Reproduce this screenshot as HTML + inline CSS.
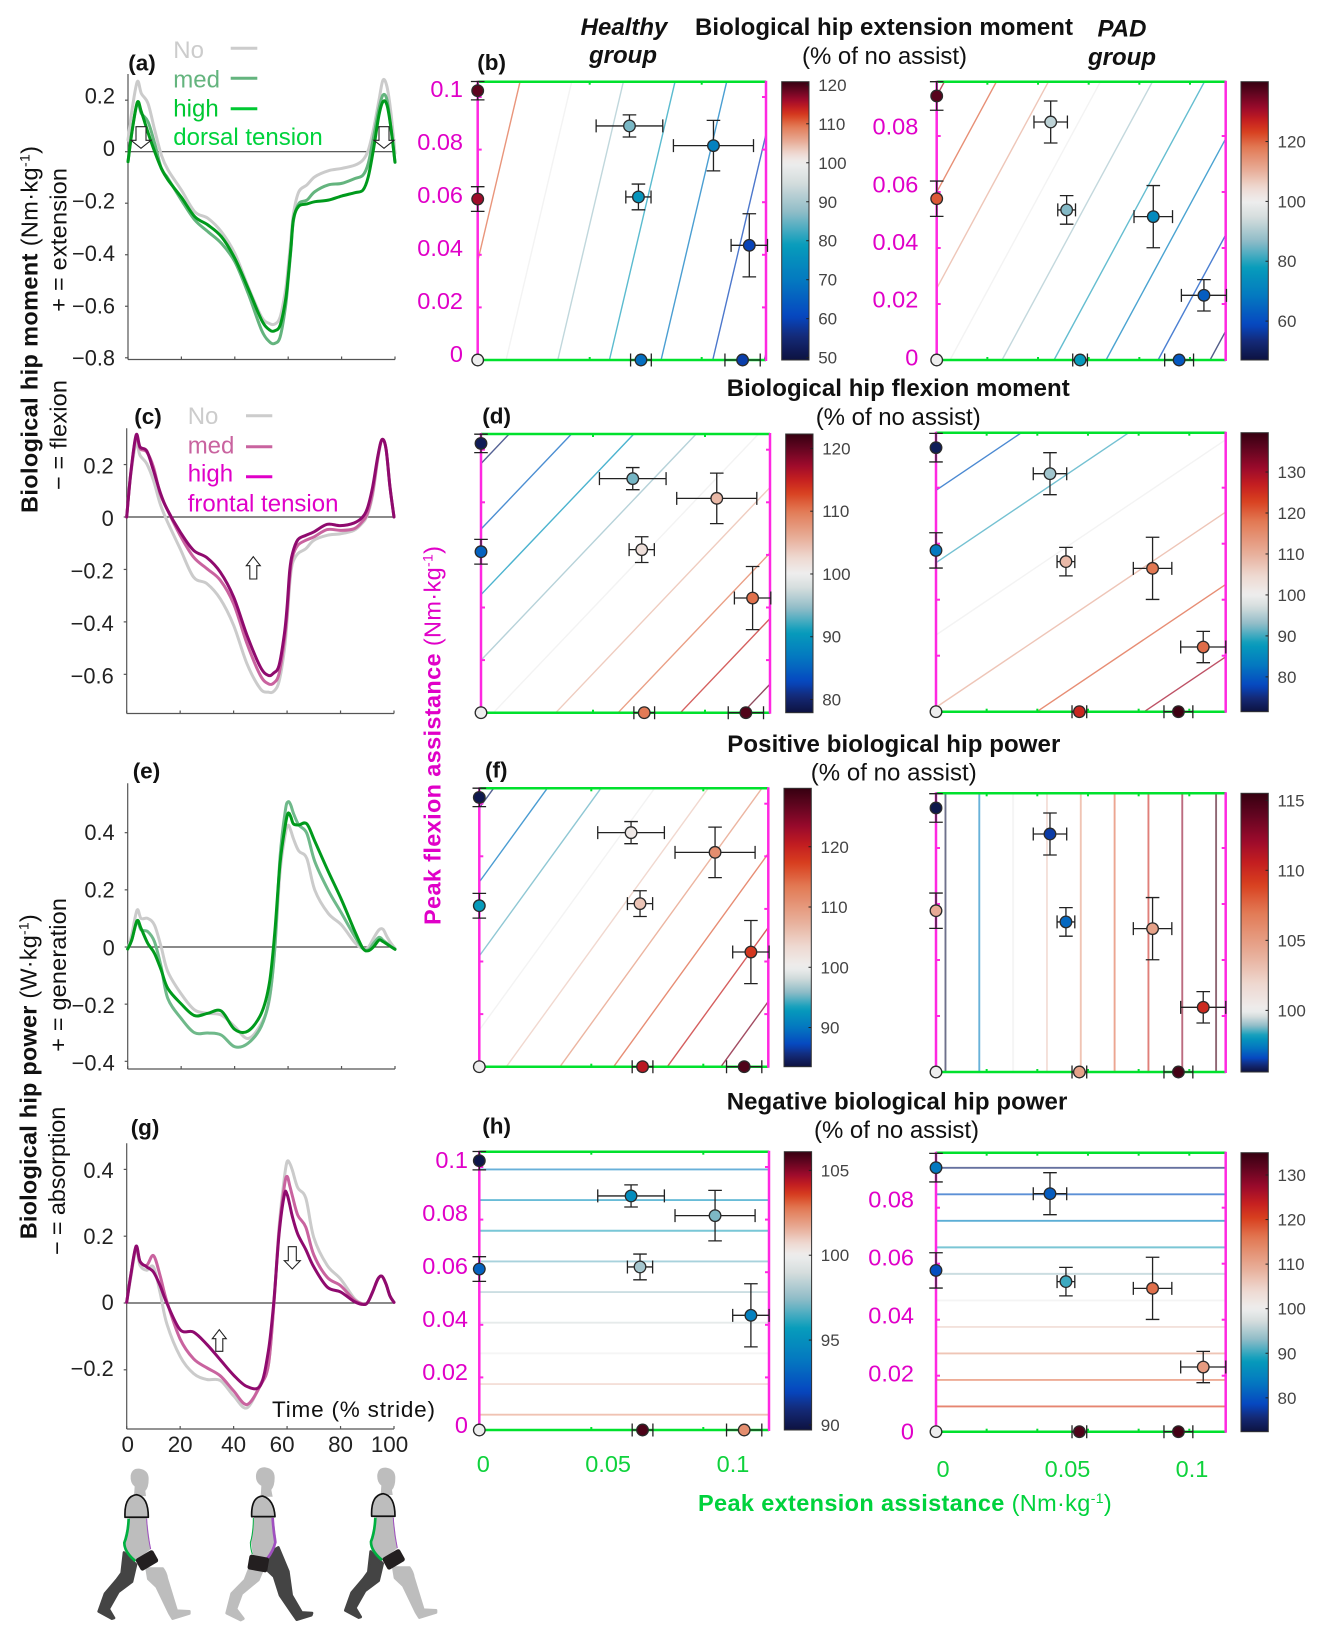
<!DOCTYPE html>
<html lang="en">
<head>
<meta charset="utf-8">
<title>Biological hip moment and power versus assistance</title>
<style>
html,body{margin:0;padding:0;background:#fff;}
svg{display:block;font-family:"Liberation Sans",sans-serif;}
.ttl{font-size:24px;font-weight:bold;fill:#111;}
.sub{font-size:24px;fill:#111;}
.ital{font-size:24px;font-weight:bold;font-style:italic;fill:#111;text-anchor:middle;}
.plab{font-size:22.5px;font-weight:bold;fill:#111;}
.leg{font-size:24px;}
.rot{font-size:23.5px;fill:#111;}
</style>
</head>
<body>
<svg id="figure" xmlns="http://www.w3.org/2000/svg" width="1324" height="1636" viewBox="0 0 1324 1636">
<rect x="0" y="0" width="1324" height="1636" fill="#fff"/>
<g id="charts"></g>

<!-- headings -->
<text class="ital" x="624" y="35">Healthy</text>
<text class="ital" x="623" y="63">group</text>
<text class="ital" x="1122" y="36.5">PAD</text>
<text class="ital" x="1122" y="65">group</text>
<text class="ttl" x="695" y="35" textLength="378">Biological hip extension moment</text>
<text class="sub" x="802" y="64" textLength="165">(% of no assist)</text>
<text class="ttl" x="726.7" y="396" textLength="343">Biological hip flexion moment</text>
<text class="sub" x="815.7" y="425" textLength="165">(% of no assist)</text>
<text class="ttl" x="727.3" y="752" textLength="333">Positive biological hip power</text>
<text class="sub" x="810.7" y="780.5" textLength="166">(% of no assist)</text>
<text class="ttl" x="726.7" y="1109.5" textLength="340.6">Negative biological hip power</text>
<text class="sub" x="814" y="1138" textLength="165">(% of no assist)</text>

<!-- panel letters -->
<text class="plab" x="128.3" y="70.5">(a)</text>
<text class="plab" x="477.3" y="70">(b)</text>
<text class="plab" x="134.3" y="424">(c)</text>
<text class="plab" x="482.3" y="423.3">(d)</text>
<text class="plab" x="132.7" y="778.3">(e)</text>
<text class="plab" x="485" y="777.7">(f)</text>
<text class="plab" x="130.7" y="1135">(g)</text>
<text class="plab" x="482.3" y="1133.3">(h)</text>

<!-- legends -->
<g>
<text class="leg" x="173.3" y="58" fill="#cccccc">No</text>
<text class="leg" x="173.3" y="87.3" fill="#64b47e">med</text>
<text class="leg" x="173.3" y="116.7" fill="#00c832">high</text>
<text class="leg" x="173.3" y="145" fill="#00d23c">dorsal tension</text>
<line x1="230.7" x2="257.3" y1="48.3" y2="48.3" stroke="#cccccc" stroke-width="3"/>
<line x1="230.7" x2="257.3" y1="78.3" y2="78.3" stroke="#64b47e" stroke-width="3"/>
<line x1="230.7" x2="257.3" y1="108.7" y2="108.7" stroke="#00c832" stroke-width="3"/>
</g>
<g>
<text class="leg" x="187.7" y="424" fill="#cccccc">No</text>
<text class="leg" x="187.7" y="453.3" fill="#c9639f">med</text>
<text class="leg" x="187.7" y="481.7" fill="#e000c8">high</text>
<text class="leg" x="187.7" y="511.7" fill="#e000c8">frontal tension</text>
<line x1="246" x2="272.3" y1="415.7" y2="415.7" stroke="#cccccc" stroke-width="3"/>
<line x1="246" x2="272.3" y1="446.7" y2="446.7" stroke="#c9639f" stroke-width="3"/>
<line x1="246" x2="272.3" y1="476.7" y2="476.7" stroke="#e000c8" stroke-width="3"/>
</g>

<!-- rotated axis titles -->
<text class="rot" transform="translate(37.5,513) rotate(-90)" textLength="367"><tspan font-weight="bold">Biological hip moment</tspan> (Nm·kg<tspan font-size="14" dy="-8">-1</tspan><tspan dy="8">)</tspan></text>
<text class="rot" transform="translate(66.5,311.7) rotate(-90)" textLength="143.7">+ = extension</text>
<text class="rot" transform="translate(66.5,490) rotate(-90)" textLength="110">− = flexion</text>
<text class="rot" transform="translate(36.7,1239.3) rotate(-90)" textLength="325"><tspan font-weight="bold">Biological hip power</tspan> (W·kg<tspan font-size="14" dy="-8">-1</tspan><tspan dy="8">)</tspan></text>
<text class="rot" transform="translate(66,1051.7) rotate(-90)" textLength="153.7">+ = generation</text>
<text class="rot" transform="translate(65,1255) rotate(-90)" textLength="148.3">− = absorption</text>
<text class="rot" style="fill:#e000c8" transform="translate(440.7,925) rotate(-90)" textLength="379"><tspan font-weight="bold">Peak flexion assistance</tspan> (Nm·kg<tspan font-size="14" dy="-8">-1</tspan><tspan dy="8">)</tspan></text>
<text class="rot" style="fill:#00d23c" x="698" y="1511" textLength="413.7"><tspan font-weight="bold">Peak extension assistance</tspan> (Nm·kg<tspan font-size="14" dy="-8">-1</tspan><tspan dy="8">)</tspan></text>
<text x="272" y="1417" font-size="22.5" fill="#111" textLength="163">Time (% stride)</text>

<!-- hollow arrows -->
<g fill="#fff" stroke="#222" stroke-width="1.1">
<path d="M136,126.7h10v13.6h5l-10,8l-10,-8h5z"/>
<path d="M379,126.7h10v13.6h5l-10,8l-10,-8h5z"/>
<path d="M253.3,556.7l7,9h-3.5v13.3h-7v-13.3h-3.5z"/>
<path d="M219.3,1329.7l7,9h-3.5v12.6h-7v-12.6h-3.5z"/>
<path d="M288.3,1246.7h8v14h4l-8,8.3l-8,-8.3h4z"/>
</g>

<!-- walking figures -->
<g transform="translate(0,1099) scale(0.33333,0.3423)">
 <g>
  <path fill="#bdbdbd" stroke="#bdbdbd" stroke-width="8" stroke-linejoin="round" d="M440,1372L488,1372Q498,1385 500,1400L530,1495L568,1497L568,1503L518,1518L508,1502L470,1425L445,1402Z"/>
  <path fill="#444" stroke="#444" stroke-width="8" stroke-linejoin="round" d="M372,1325L408,1360L396,1410L355,1440L326,1490L342,1516L336,1518L296,1497L315,1445L350,1405L365,1385Z"/>
  <path fill="#bdbdbd" d="M388,1222L440,1222L452,1315L420,1340L405,1352L375,1322L370,1295Z"/>
  <path fill="#bdbdbd" d="M392,1100Q396,1078 418,1080Q446,1084 446,1110Q446,1135 436,1145L438,1160L402,1160L404,1132Q390,1122 392,1100Z"/>
  <path fill="#bdbdbd" stroke="#111" stroke-width="5" stroke-linejoin="round" d="M375,1222Q372,1160 410,1156Q445,1162 445,1222Z"/>
  <path fill="none" stroke="#00b040" stroke-width="8" d="M386,1226Q384,1270 373,1296Q372,1322 406,1350"/>
  <path fill="none" stroke="#a050c0" stroke-width="3" d="M440,1226Q442,1270 452,1315"/>
  <rect x="411" y="1328" width="60" height="40" rx="7" fill="#231f20" transform="rotate(-30 441 1348)"/>
 </g>
 <g>
  <path fill="#bdbdbd" stroke="#bdbdbd" stroke-width="8" stroke-linejoin="round" d="M752,1362L790,1370L775,1405L725,1445L708,1490L730,1518L722,1522L680,1502L695,1445L735,1405Z"/>
  <path fill="#444" stroke="#444" stroke-width="8" stroke-linejoin="round" d="M800,1330L835,1310L865,1380L875,1450L905,1500L936,1502L934,1508L890,1521L875,1500L840,1450L822,1395L800,1375Z"/>
  <path fill="#bdbdbd" d="M762,1222L820,1222L830,1292L800,1345L760,1340L752,1290Z"/>
  <path fill="#bdbdbd" d="M768,1098Q772,1075 796,1076Q824,1080 824,1106Q824,1130 814,1142L818,1162L782,1162L784,1130Q766,1120 768,1098Z"/>
  <path fill="#bdbdbd" stroke="#111" stroke-width="5" stroke-linejoin="round" d="M755,1220Q753,1162 788,1160Q822,1170 825,1220Z"/>
  <path fill="none" stroke="#00b040" stroke-width="3" d="M760,1224Q760,1270 751,1296Q752,1315 757,1330"/>
  <path fill="none" stroke="#a050c0" stroke-width="8" d="M818,1224Q820,1260 826,1295Q820,1320 802,1342"/>
  <rect x="745" y="1335" width="60" height="44" rx="7" fill="#231f20" transform="rotate(10 775 1357)"/>
 </g>
 <g transform="translate(740,-3)">
  <path fill="#bdbdbd" stroke="#bdbdbd" stroke-width="8" stroke-linejoin="round" d="M440,1372L488,1372Q498,1385 500,1400L530,1495L568,1497L568,1503L518,1518L508,1502L470,1425L445,1402Z"/>
  <path fill="#444" stroke="#444" stroke-width="8" stroke-linejoin="round" d="M372,1325L408,1360L396,1410L355,1440L326,1490L342,1516L336,1518L296,1497L315,1445L350,1405L365,1385Z"/>
  <path fill="#bdbdbd" d="M388,1222L440,1222L452,1315L420,1340L405,1352L375,1322L370,1295Z"/>
  <path fill="#bdbdbd" d="M392,1100Q396,1078 418,1080Q446,1084 446,1110Q446,1135 436,1145L438,1160L402,1160L404,1132Q390,1122 392,1100Z"/>
  <path fill="#bdbdbd" stroke="#111" stroke-width="5" stroke-linejoin="round" d="M375,1222Q372,1160 410,1156Q445,1162 445,1222Z"/>
  <path fill="none" stroke="#00b040" stroke-width="8" d="M386,1226Q384,1270 373,1296Q372,1322 406,1350"/>
  <path fill="none" stroke="#a050c0" stroke-width="3" d="M440,1226Q442,1270 452,1315"/>
  <rect x="411" y="1328" width="60" height="40" rx="7" fill="#231f20" transform="rotate(-30 441 1348)"/>
 </g>
</g>
</svg>

<script>
/* ---------- gait curves ---------- */
const stridePercent = [0,1.5,3.5,5,7.5,10,12.5,15,20,25,30,35,40,45,50,53,55,57,59,60,61,62,64,67,70,75,80,85,88,90,92,94,95.5,97,98.5,100];
const timeTicks = [0,20,40,60,80,100];

const extensionNo = [.045,.162,.272,.226,.187,.084,-.013,-.071,-.149,-.233,-.259,-.311,-.395,-.524,-.641,-.667,-.669,-.641,-.537,-.446,-.343,-.239,-.155,-.129,-.097,-.074,-.065,-.052,-.032,.006,.09,.2,.278,.252,.149,-.006];
const extensionMed = [-.039,.078,.188,.149,.116,.032,-.065,-.104,-.188,-.265,-.311,-.356,-.427,-.55,-.692,-.738,-.744,-.718,-.601,-.498,-.382,-.265,-.201,-.188,-.155,-.129,-.123,-.104,-.091,-.045,.058,.168,.22,.201,.091,-.041];
const extensionHigh = [-.039,.078,.192,.155,.074,0,-.065,-.11,-.177,-.252,-.285,-.33,-.414,-.531,-.653,-.692,-.695,-.673,-.576,-.485,-.375,-.259,-.211,-.203,-.194,-.188,-.172,-.159,-.149,-.097,.013,.142,.194,.181,.091,-.041];
const extensionTicks = [0.2,0,-0.2,-0.4,-0.6,-0.8];

const flexionNo = [0,.159,.28,.235,.203,.14,.051,-.013,-.121,-.229,-.254,-.312,-.413,-.56,-.655,-.668,-.665,-.627,-.506,-.394,-.254,-.178,-.14,-.121,-.089,-.07,-.064,-.051,-.025,.006,.083,.223,.295,.261,.114,0];
const flexionMed = [0,.165,.305,.261,.248,.191,.089,.032,-.07,-.153,-.197,-.241,-.331,-.483,-.604,-.636,-.633,-.598,-.47,-.369,-.229,-.153,-.108,-.089,-.076,-.048,-.051,-.045,-.019,.013,.095,.229,.295,.261,.114,0];
const flexionHigh = [0,.165,.312,.267,.252,.178,.095,.032,-.057,-.127,-.155,-.21,-.305,-.451,-.572,-.604,-.595,-.566,-.445,-.343,-.203,-.14,-.087,-.07,-.057,-.028,-.033,-.023,-.003,.032,.114,.235,.295,.261,.114,0];
const flexionTicks = [0.2,0,-0.2,-0.4,-0.6];

const generationNo = [-.007,.042,.129,.1,.1,.077,.001,-.086,-.164,-.22,-.232,-.238,-.278,-.32,-.267,-.185,-.01,.263,.397,.426,.408,.379,.336,.31,.199,.118,.077,.015,-.005,-.001,.031,.06,.062,.036,.013,-.005];
const generationMed = [-.007,.024,.089,.06,.054,.019,-.069,-.18,-.25,-.3,-.301,-.308,-.349,-.337,-.277,-.18,-.01,.315,.479,.508,.497,.468,.427,.398,.299,.199,.118,.036,-.005,-.01,.013,.034,.024,.013,.001,-.008];
const generationHigh = [-.007,.024,.092,.065,.013,-.022,-.08,-.145,-.199,-.24,-.232,-.224,-.288,-.294,-.232,-.127,.048,.293,.428,.468,.456,.431,.427,.431,.37,.265,.165,.054,-.005,-.013,.001,.024,.019,.01,.001,-.008];
const generationTicks = [0.4,0.2,0,-0.2,-0.4];

const absorptionNo = [.002,.075,.16,.113,.098,.108,.031,-.062,-.16,-.211,-.229,-.232,-.278,-.314,-.242,-.186,-.01,.227,.376,.423,.418,.397,.345,.314,.196,.113,.072,.015,-.002,0,.033,.072,.08,.057,.021,.002];
const absorptionMed = [.002,.082,.165,.124,.113,.142,.082,.005,-.108,-.167,-.194,-.218,-.263,-.304,-.247,-.186,-.01,.216,.351,.379,.351,.32,.263,.227,.144,.077,.052,.01,-.002,0,.033,.072,.08,.057,.021,.002];
const absorptionHigh = [.002,.082,.17,.124,.108,.093,.052,0,-.08,-.087,-.124,-.17,-.216,-.25,-.247,-.144,0,.206,.325,.325,.294,.258,.206,.16,.108,.048,.033,.005,-.004,0,.033,.072,.08,.057,.021,.002];
const absorptionTicks = [0.4,0.2,0,-0.2];

/* ---------- assistance conditions (Nm/kg) ---------- */
const healthyExtension = [0,0,0,.0542,.0842,.0574,.097,.0583,.0946];
const healthyFlexion = [.1024,.0612,0,.089,.0815,.062,.0436,0,0];
const healthyExtensionErr = [0,0,0,.0119,.0143,.0045,.0065,.0037,.0063];
const healthyFlexionErr = [.0035,.0047,0,.0042,.0096,.0049,.012,0,0];
const padExtension = [0,0,0,.045,.0855,.0513,.1055,.0566,.0957];
const padFlexion = [.0943,.0576,0,.085,.0512,.0536,.0231,0,0];
const padExtensionErr = [0,0,0,.0066,.0076,.0035,.0089,.0029,.0057];
const padFlexionErr = [.0051,.0063,0,.0075,.0111,.0051,.0056,0,0];

const healthyXTicks = [.04,.08];
const healthyYTicks = [.02,.04,.06,.08,.1];
const padXTicks = [.02,.04,.06,.08,.1];
const padYTicks = [.02,.04,.06,.08];
const healthyYLabels = [0,.02,.04,.06,.08,.1];
const padYLabels = [0,.02,.04,.06,.08];
const xLabels = [0,.05,.1];

/* ---------- % of no assist at each condition ---------- */
const extMomentHealthy = [119,116,100,86,72,77,60,68,59];
const extMomentPad = [137,121,100,92,73,86,63,77,62];
const flexMomentHealthy = [79,85,100,93.8,105,101.8,110.5,110,121];
const flexMomentPad = [73,83,100,94,118,108.7,119,126,139];
const posPowerHealthy = [84,93,100,101,111.3,105.5,118,121,128];
const posPowerPad = [95.7,104.2,100,96.4,104.7,97.1,110,104.7,115];
const negPowerHealthy = [89.9,93,100,94.9,97.2,97.9,94.3,105.8,102.3];
const negPowerPad = [83.4,79.3,100,80.7,116.5,90.3,111.5,133,134];

/* ---------- fitted plane: intercept, slope per extension, slope per flexion ---------- */
const extMomentHealthyPlane = [105.5,-542,120];
const extMomentPadPlane = [102.56,-487,291];
const flexMomentHealthyPlane = [99,224.6,-200.6];
const flexMomentPadPlane = [110.6,236,-387];
const posPowerHealthyPlane = [102.48,260.9,-177.7];
const posPowerPadPlane = [94.3,187.2,0];
const negPowerHealthyPlane = [102.5,0,-85.8];
const negPowerPadPlane = [124.76,0,-528];

/* ---------- contour levels ---------- */
const extMomentHealthyLevels = [50,60,70,80,90,100,110];
const extMomentPadLevels = [50,60,70,80,90,100,110,120,130];
const flexMomentHealthyLevels = [80,85,90,95,100,105,110,115,120];
const flexMomentPadLevels = [80,90,100,110,120,130];
const posPowerHealthyLevels = [85,90,95,100,105,110,115,120,125];
const posPowerPadLevels = [95,97.5,100,102.5,105,107.5,110,112.5,115];
const negPowerHealthyLevels = [94,95,96,97,98,99,100,101,102];
const negPowerPadLevels = [75,80,85,90,95,100,105,110,115,120];

/* ---------- colour-bar ranges and ticks ---------- */
const extMomentHealthyRange = [49.4,120.8];
const extMomentPadRange = [47,140];
const flexMomentHealthyRange = [77.9,122.3];
const flexMomentPadRange = [71.5,139.6];
const posPowerHealthyRange = [83.5,129.7];
const posPowerPadRange = [95.6,115.5];
const negPowerHealthyRange = [89.7,106.1];
const negPowerPadRange = [72.4,135];
const extMomentHealthyBarTicks = [50,60,70,80,90,100,110,120];
const extMomentPadBarTicks = [60,80,100,120];
const flexMomentHealthyBarTicks = [80,90,100,110,120];
const flexMomentPadBarTicks = [80,90,100,110,120,130];
const posPowerHealthyBarTicks = [90,100,110,120];
const posPowerPadBarTicks = [100,105,110,115];
const negPowerHealthyBarTicks = [90,95,100,105];
const negPowerPadBarTicks = [80,90,100,110,120,130];

/* ---------- helpers ---------- */
const NS = 'http://www.w3.org/2000/svg';
const root = document.getElementById('charts');
const GREEN = 'rgb(0,225,45)';
const PINK = 'rgb(255,40,225)';
const PINK_TEXT = '#e000c8';
const GREEN_TEXT = '#0fd23c';
let gradientCount = 0;

function make(tag, attrs, parent) {
  const e = document.createElementNS(NS, tag);
  for (const k in attrs) e.setAttribute(k, attrs[k]);
  parent.appendChild(e);
  return e;
}
function hexRgb(h) {
  return [parseInt(h.slice(1,3),16), parseInt(h.slice(3,5),16), parseInt(h.slice(5,7),16)];
}
const cmapT = [-1,-.88,-.78,-.6,-.42,-.25,-.1,0,.12,.25,.45,.58,.68,.78,.9,1];
const cmapC = ['#0d1240','#142a78','#0646c0','#0478c0','#069cbb','#8fbcc7','#d5dddd','#eeeeee','#eed8d0','#e8b09c','#e27a55','#d8401f','#c41e20','#9c0a2c','#620520','#360010'];
function colorFor(v, range) {
  let t = v < 100 ? (v - 100) / (100 - range[0]) : (v - 100) / (range[1] - 100);
  t = Math.max(-1, Math.min(1, t));
  let i = 0;
  while (i < cmapT.length - 2 && t > cmapT[i + 1]) i++;
  const f = (t - cmapT[i]) / (cmapT[i + 1] - cmapT[i]);
  const a = hexRgb(cmapC[i]);
  const b = hexRgb(cmapC[i + 1]);
  return 'rgb(' + a.map((c, n) => Math.round(c + (b[n] - c) * f)).join(',') + ')';
}
function smoothPath(pts) {
  let d = 'M' + pts[0][0].toFixed(2) + ',' + pts[0][1].toFixed(2);
  for (let i = 0; i < pts.length - 1; i++) {
    const p0 = pts[Math.max(0, i - 1)];
    const p1 = pts[i];
    const p2 = pts[i + 1];
    const p3 = pts[Math.min(pts.length - 1, i + 2)];
    const c1x = p1[0] + (p2[0] - p0[0]) / 6;
    const c1y = p1[1] + (p2[1] - p0[1]) / 6;
    const c2x = p2[0] - (p3[0] - p1[0]) / 6;
    const c2y = p2[1] - (p3[1] - p1[1]) / 6;
    d += 'C' + c1x.toFixed(2) + ',' + c1y.toFixed(2) + ' ' + c2x.toFixed(2) + ',' + c2y.toFixed(2) + ' ' + p2[0].toFixed(2) + ',' + p2[1].toFixed(2);
  }
  return d;
}
function signed(v) {
  return v < 0 ? '−' + Math.abs(v) : String(v);
}

/* ---------- gait line chart ---------- */
function lineChart(cfg) {
  const g = make('g', {}, root);
  
  
  const xAt = t => cfg.left + (cfg.right - cfg.left) * t / 100;
  const yAt = v => cfg.zeroY - v * cfg.unit;
  const labelAt = v => cfg.labelZero - v * cfg.labelScale;

  const yAxis = make('line', {x1: cfg.left, x2: cfg.left, y1: cfg.top, y2: cfg.bottom, stroke: '#555', 'stroke-width': 1.2}, g);
  
  
  const xAxis = make('line', {x1: cfg.left, x2: cfg.right, y1: cfg.bottom, y2: cfg.bottom, stroke: '#555', 'stroke-width': 1.2}, g);
  
  
  const zero = make('line', {x1: cfg.left, x2: cfg.right, y1: yAt(0), y2: yAt(0), stroke: '#444', 'stroke-width': 1.2}, g);
  
  

  cfg.yTicks.forEach(v => {
    const tick = make('line', {x1: cfg.left - 3, x2: cfg.left, y1: yAt(v), y2: yAt(v), stroke: '#555', 'stroke-width': 1.2}, g);
    
    
    const label = make('text', {x: cfg.left - 13, y: labelAt(v) + 7.8, 'text-anchor': 'end', 'font-size': 21.8, fill: '#222'}, g);
    
    
    label.textContent = signed(v);
  });
  timeTicks.forEach(t => {
    const tick = make('line', {x1: xAt(t), x2: xAt(t), y1: cfg.bottom - 3, y2: cfg.bottom, stroke: '#555', 'stroke-width': 1.2}, g);
    
    
    if (cfg.showTime) {
      const label = make('text', {x: xAt(t) + (t === 100 ? -4.5 : t === 60 ? -5 : 0) + (t === 0 ? 1 : 0), y: cfg.bottom + 23, 'text-anchor': 'middle', 'font-size': 22.4, fill: '#222'}, g);
      
      
      label.textContent = String(t);
    }
  });
  cfg.series.forEach(s => {
    const pts = stridePercent.map((t, i) => [xAt(t), yAt(s.values[i])]);
    const path = make('path', {d: smoothPath(pts), fill: 'none', stroke: s.color, 'stroke-width': 3, 'stroke-linejoin': 'round', 'stroke-linecap': 'round'}, g);
    
    
  });
}

const GRAY = '#cbcbcb';
lineChart({name: 'extension-moment-chart', left: 128, right: 395, top: 74, bottom: 359.5, zeroY: 151.7, unit: 257.6, labelZero: 148.3, labelScale: 262, yTicks: extensionTicks,
  series: [{values: extensionNo, color: GRAY, name: 'curve-no-assist'}, {values: extensionMed, color: '#64b47e', name: 'curve-medium'}, {values: extensionHigh, color: '#009a1c', name: 'curve-high'}]});
lineChart({name: 'flexion-moment-chart', left: 126.7, right: 394, top: 428.3, bottom: 713.5, zeroY: 517, unit: 262.2, labelZero: 518.3, labelScale: 262, yTicks: flexionTicks,
  series: [{values: flexionNo, color: GRAY, name: 'curve-no-assist'}, {values: flexionMed, color: '#c9639f', name: 'curve-medium'}, {values: flexionHigh, color: '#8f0a6e', name: 'curve-high'}]});
lineChart({name: 'power-generation-chart', left: 127.7, right: 395, top: 783.3, bottom: 1069, zeroY: 947, unit: 285.8, labelZero: 947.5, labelScale: 288, yTicks: generationTicks,
  series: [{values: generationNo, color: GRAY, name: 'curve-no-assist'}, {values: generationMed, color: '#6fb98a', name: 'curve-medium'}, {values: generationHigh, color: '#009a1c', name: 'curve-high'}]});
lineChart({name: 'power-absorption-chart', left: 126.7, right: 394, top: 1143.3, bottom: 1429, zeroY: 1303, unit: 334, labelZero: 1302, labelScale: 330, yTicks: absorptionTicks, showTime: true,
  series: [{values: absorptionNo, color: GRAY, name: 'curve-no-assist'}, {values: absorptionMed, color: '#c9639f', name: 'curve-medium'}, {values: absorptionHigh, color: '#8f0a6e', name: 'curve-high'}]});

/* ---------- contour + scatter panel ---------- */
function contourPanel(cfg) {
  const g = make('g', {}, root);
  
  
  const xAt = v => cfg.left + v * cfg.kx;
  const yAt = v => cfg.bottom - v * cfg.ky;
  const xMax = (cfg.right - cfg.left) / cfg.kx;
  const yMax = (cfg.bottom - cfg.top) / cfg.ky;
  const plane = cfg.plane;

  cfg.levels.forEach(level => {
    const hits = [];
    if (plane[2] !== 0) {
      [0, xMax].forEach(x => {
        const y = (level - plane[0] - plane[1] * x) / plane[2];
        if (y >= 0 && y <= yMax) hits.push([x, y]);
      });
    }
    if (plane[1] !== 0) {
      [0, yMax].forEach(y => {
        const x = (level - plane[0] - plane[2] * y) / plane[1];
        if (x >= 0 && x <= xMax) hits.push([x, y]);
      });
    }
    if (hits.length < 2) return;
    const c = make('line', {x1: xAt(hits[0][0]), y1: yAt(hits[0][1]), x2: xAt(hits[1][0]), y2: yAt(hits[1][1]), stroke: colorFor(level, cfg.range), 'stroke-width': cfg.contourWidth || 1.4, 'stroke-opacity': cfg.contourOpacity || .72}, g);
    
    
  });

  [cfg.top, cfg.bottom].forEach(y => {
    const b = make('line', {x1: cfg.left, x2: cfg.right, y1: y, y2: y, stroke: GREEN, 'stroke-width': 2.5}, g);
    
    
  });
  [cfg.left, cfg.right].forEach(x => {
    const b = make('line', {x1: x, x2: x, y1: cfg.top - 1, y2: cfg.bottom + 1, stroke: PINK, 'stroke-width': 2.5}, g);
    
    
  });
  cfg.xTicks.forEach(v => {
    [[cfg.top, 3], [cfg.bottom, -3]].forEach(pair => {
      const t = make('line', {x1: xAt(v), x2: xAt(v), y1: pair[0], y2: pair[0] + pair[1], stroke: GREEN, 'stroke-width': 2}, g);
      
      
    });
  });
  cfg.yTicks.forEach(v => {
    [[cfg.left, 4], [cfg.right, -4]].forEach(pair => {
      const t = make('line', {x1: pair[0], x2: pair[0] + pair[1], y1: yAt(v), y2: yAt(v), stroke: PINK, 'stroke-width': 2}, g);
      
      
    });
  });

  if (cfg.yLabels) {
    cfg.yLabels.forEach(v => {
      const t = make('text', {x: cfg.labelRight, y: cfg.labelZero - v * cfg.labelScale + 8, 'text-anchor': 'end', 'font-size': 23.5, fill: PINK_TEXT}, g);
      
      
      t.textContent = String(v);
    });
  }
  if (cfg.xLabels) {
    cfg.xLabels.forEach(v => {
      const t = make('text', {x: cfg.left + cfg.xLabelOffset + v * cfg.xLabelScale, y: cfg.xLabelY + 8, 'text-anchor': 'middle', 'font-size': 23.5, fill: GREEN_TEXT}, g);
      
      
      t.textContent = String(v);
    });
  }

  cfg.values.forEach((value, i) => {
    const px = xAt(cfg.x[i]);
    const py = yAt(cfg.y[i]);
    const ex = cfg.xErr[i] * cfg.kx;
    const ey = cfg.yErr[i] * cfg.ky;
    const errs = make('g', {stroke: '#222', 'stroke-width': 1.3, fill: 'none'}, g);
    
    
    if (ex > 0) {
      const bar = make('path', {d: 'M' + (px - ex) + ',' + py + 'H' + (px + ex) + 'M' + (px - ex) + ',' + (py - 6.5) + 'V' + (py + 6.5) + 'M' + (px + ex) + ',' + (py - 6.5) + 'V' + (py + 6.5)}, errs);
      
      
    }
    if (ey > 0) {
      const bar = make('path', {d: 'M' + px + ',' + (py - ey) + 'V' + (py + ey) + 'M' + (px - 6.8) + ',' + (py - ey) + 'H' + (px + 6.8) + 'M' + (px - 6.8) + ',' + (py + ey) + 'H' + (px + 6.8)}, errs);
      
      
    }
    const dot = make('circle', {cx: px, cy: py, r: 5.8, fill: colorFor(value, cfg.range), stroke: '#2a2a2a', 'stroke-width': 1.3}, g);
    
    
  });

  /* colour bar */
  const gradId = 'cb' + (gradientCount++);
  const defs = make('defs', {}, g);
  const grad = make('linearGradient', {id: gradId, x1: 0, y1: 0, x2: 0, y2: 1}, defs);
  const span = cfg.range[1] - cfg.range[0];
  for (let n = 0; n <= 60; n++) {
    make('stop', {offset: (n / 60), 'stop-color': colorFor(cfg.range[1] - span * n / 60, cfg.range)}, grad);
  }
  const bar = make('rect', {x: cfg.barX, y: cfg.top, width: 27.3, height: cfg.bottom - cfg.top, fill: 'url(#' + gradId + ')', stroke: '#333', 'stroke-width': 1}, g);
  
  
  cfg.barTicks.forEach(v => {
    const by = cfg.top + (cfg.range[1] - v) / span * (cfg.bottom - cfg.top);
    const tick = make('line', {x1: cfg.barX + 24.5, x2: cfg.barX + 27.3, y1: by, y2: by, stroke: '#222', 'stroke-width': 1}, g);
    
    
    const label = make('text', {x: cfg.barX + 36.5, y: by + 6, 'font-size': 17, fill: '#444'}, g);
    
    
    label.textContent = String(v);
  });
}

const healthy = {kx: 2800, ky: 2630, x: healthyExtension, y: healthyFlexion, xErr: healthyExtensionErr, yErr: healthyFlexionErr, xTicks: healthyXTicks, yTicks: healthyYTicks};
const pad = {kx: 2533, ky: 2800, x: padExtension, y: padFlexion, xErr: padExtensionErr, yErr: padFlexionErr, xTicks: padXTicks, yTicks: padYTicks};

contourPanel(Object.assign({}, healthy, {name: 'extension-moment-healthy-panel', left: 477.7, right: 766, top: 81.7, bottom: 360, barX: 781.7,
  values: extMomentHealthy, plane: extMomentHealthyPlane, levels: extMomentHealthyLevels, range: extMomentHealthyRange, barTicks: extMomentHealthyBarTicks,
  yLabels: healthyYLabels, labelRight: 463, labelZero: 354, labelScale: 2650}));
contourPanel(Object.assign({}, pad, {name: 'extension-moment-pad-panel', left: 936.7, right: 1225.7, top: 81.7, bottom: 360, barX: 1241,
  values: extMomentPad, plane: extMomentPadPlane, levels: extMomentPadLevels, range: extMomentPadRange, barTicks: extMomentPadBarTicks,
  yLabels: padYLabels, labelRight: 918.3, labelZero: 357.3, labelScale: 2882}));
contourPanel(Object.assign({}, healthy, {name: 'flexion-moment-healthy-panel', left: 481, right: 770, top: 434, bottom: 712.7, barX: 785.7,
  values: flexMomentHealthy, plane: flexMomentHealthyPlane, levels: flexMomentHealthyLevels, range: flexMomentHealthyRange, barTicks: flexMomentHealthyBarTicks}));
contourPanel(Object.assign({}, pad, {name: 'flexion-moment-pad-panel', left: 936, right: 1225.7, top: 432.7, bottom: 711.7, barX: 1241,
  values: flexMomentPad, plane: flexMomentPadPlane, levels: flexMomentPadLevels, range: flexMomentPadRange, barTicks: flexMomentPadBarTicks}));
contourPanel(Object.assign({}, healthy, {name: 'positive-power-healthy-panel', left: 479.3, right: 768.3, top: 788.3, bottom: 1066.7, barX: 784,
  values: posPowerHealthy, plane: posPowerHealthyPlane, levels: posPowerHealthyLevels, range: posPowerHealthyRange, barTicks: posPowerHealthyBarTicks}));
contourPanel(Object.assign({}, pad, {name: 'positive-power-pad-panel', left: 936, right: 1225.7, top: 793.3, bottom: 1072, barX: 1241, contourWidth: 1.9, contourOpacity: .6,
  values: posPowerPad, plane: posPowerPadPlane, levels: posPowerPadLevels, range: posPowerPadRange, barTicks: posPowerPadBarTicks}));
contourPanel(Object.assign({}, healthy, {name: 'negative-power-healthy-panel', left: 479.3, right: 769, top: 1151.7, bottom: 1430, barX: 784.3, contourWidth: 1.9, contourOpacity: .6,
  values: negPowerHealthy, plane: negPowerHealthyPlane, levels: negPowerHealthyLevels, range: negPowerHealthyRange, barTicks: negPowerHealthyBarTicks,
  yLabels: healthyYLabels, labelRight: 468, labelZero: 1425, labelScale: 2650,
  xLabels: xLabels, xLabelOffset: 4, xLabelScale: 2497, xLabelY: 1464}));
contourPanel(Object.assign({}, pad, {name: 'negative-power-pad-panel', left: 936, right: 1225.7, top: 1152.7, bottom: 1431.7, barX: 1241, contourWidth: 1.9, contourOpacity: .65,
  values: negPowerPad, plane: negPowerPadPlane, levels: negPowerPadLevels, range: negPowerPadRange, barTicks: negPowerPadBarTicks,
  yLabels: padYLabels, labelRight: 914, labelZero: 1431.7, labelScale: 2900,
  xLabels: xLabels, xLabelOffset: 7, xLabelScale: 2490, xLabelY: 1469}));
</script>
</body>
</html>
